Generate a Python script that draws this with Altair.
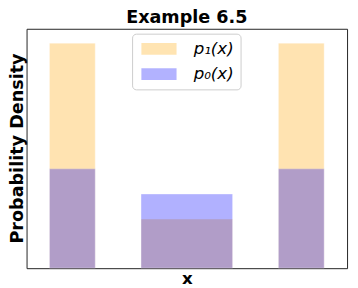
import altair as alt
import pandas as pd

series = ["p₁(x)", "p₀(x)"]
colors = ["#FFA500", "#0000FF"]
bin_left = [1, 3, 6]
bin_right = [2, 5, 7]
p1_density = [0.94, 0.205, 0.94]
p0_density = [0.415, 0.31, 0.415]

rows = []
for k, (name, vals) in enumerate([(series[0], p1_density), (series[1], p0_density)]):
    for l, r, v in zip(bin_left, bin_right, vals):
        rows.append({"series": name, "x0": l, "x1": r, "density": v, "layer": k})
df = pd.DataFrame(rows)

chart = alt.Chart(df).mark_rect(opacity=0.3, stroke="white", strokeWidth=0.6, strokeOpacity=0.6).encode(
    x=alt.X("x0:Q", scale=alt.Scale(domain=[0.5, 7.5], nice=False, zero=False),
            axis=alt.Axis(title="x", labels=False, ticks=False, grid=False, domain=False,
                          titleFont="DejaVu Sans", titleFontSize=17, titleFontWeight="bold",
                          titleColor="black", titlePadding=3)),
    x2="x1:Q",
    y=alt.Y("density:Q", stack=None, scale=alt.Scale(domain=[0, 1], nice=False),
            axis=alt.Axis(title="Probability Density", labels=False, ticks=False, grid=False, domain=False,
                          titleFont="DejaVu Sans", titleFontSize=18, titleFontWeight="bold",
                          titleColor="black", titleAngle=270, titleBaseline="top",
                          titleX=-18, titleY=122, titleAlign="center")),
    y2=alt.datum(0),
    color=alt.Color("series:N", scale=alt.Scale(domain=series, range=colors),
                    legend=alt.Legend(title=None, orient="none", legendX=108, legendY=5,
                                      symbolType="M-3,-1H3V1H-3Z", symbolSize=144,
                                      symbolOffset=12,
                                      symbolOpacity=0.3, symbolStrokeWidth=0,
                                      labelFont="DejaVu Sans", labelFontStyle="italic",
                                      labelFontSize=17, labelColor="black",
                                      fillColor="white", strokeColor="#cccccc", cornerRadius=4,
                                      padding=7, rowPadding=8, labelOffset=27)),
    order=alt.Order("layer:Q"),
).properties(
    width=328, height=245,
    title=alt.TitleParams("Example 6.5", font="DejaVu Sans", fontSize=18, fontWeight="bold",
                          color="black", anchor="middle", offset=2),
    autosize=alt.AutoSizeParams(type="none"),
    padding={"left": 19, "top": 18, "right": 3, "bottom": 17},
).configure_view(stroke="#222222", strokeWidth=1)

chart.save("out.html", embed_options={"renderer": "svg", "actions": False})
